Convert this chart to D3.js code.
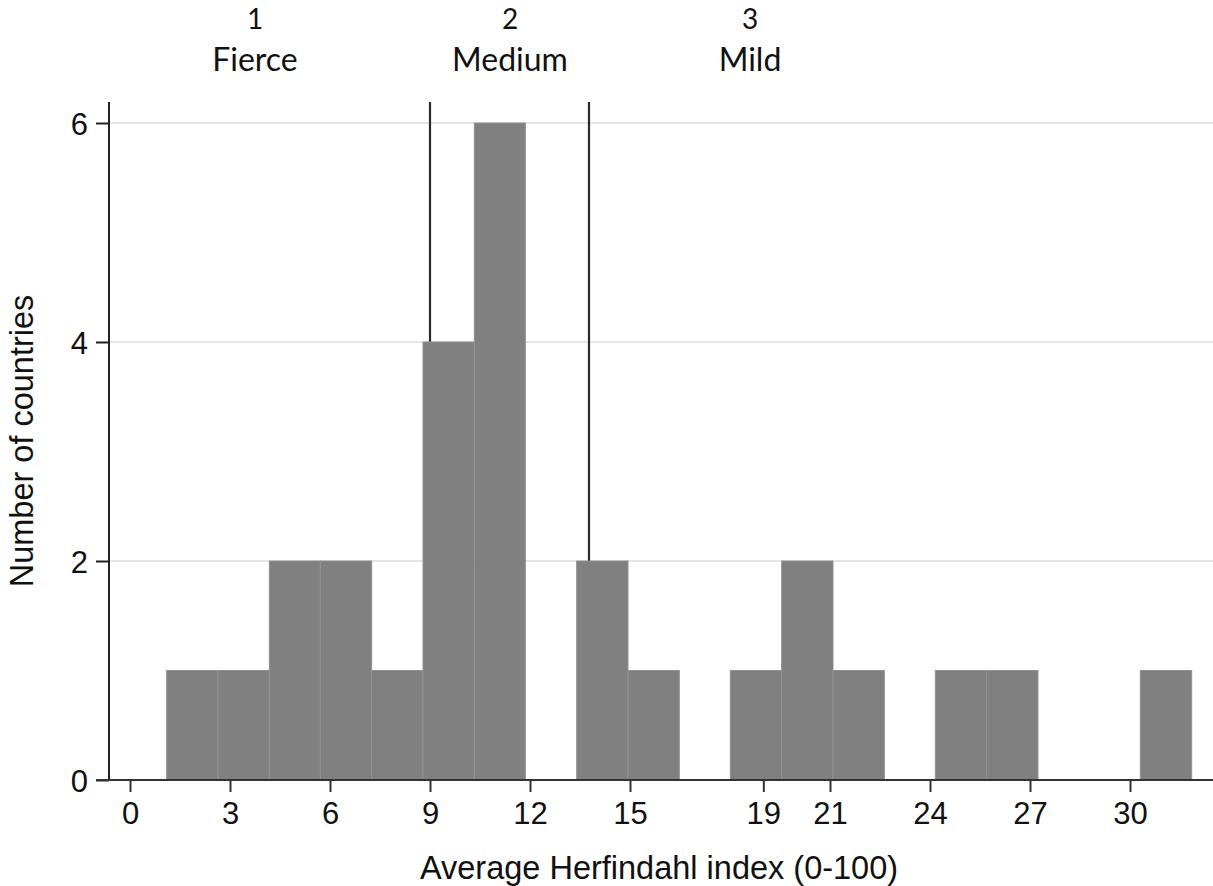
<!DOCTYPE html>
<html>
<head>
<meta charset="utf-8">
<script src="https://cdn.jsdelivr.net/npm/d3@7"></script>
<style>
  html, body { margin: 0; padding: 0; background: #fff; }
  svg { display: block; }
  .sans { font-family: "Liberation Sans", Arial, sans-serif; }
  .lab { font-family: Lato, "Open Sans", sans-serif; }
</style>
</head>
<body>
<svg id="chart" width="1213" height="886"></svg>
<script>
// ---- data ----
const binEdges = [1.10, 2.64, 4.18, 5.71, 7.25, 8.79, 10.33, 11.86, 13.40, 14.94, 16.48,
                  18.01, 19.55, 21.09, 22.63, 24.16, 25.70, 27.24, 28.78, 30.31, 31.85];
const binCounts = [1, 1, 2, 2, 1, 4, 6, 0, 2, 1, 0, 1, 2, 1, 0, 1, 1, 0, 0, 1];
const xTicks = [0, 3, 6, 9, 12, 15, 19, 21, 24, 27, 30];
const yTicks = [0, 2, 4, 6];
const cutoffs = [9.0, 13.77];
const groupNumbers = ["1", "2", "3"];
const groupNames = ["Fierce", "Medium", "Mild"];
const groupCenters = [3.75, 11.4, 18.6];
const xTitle = "Average Herfindahl index (0-100)";
const yTitle = "Number of countries";

// ---- layout ----
const svg = d3.select("#chart");
const x = d3.scaleLinear().domain([0, 30]).range([130, 1130]);
const y = d3.scaleLinear().domain([0, 6]).range([780, 123]);
const axisX = 109, plotTop = 102, plotRight = 1213;

// gridlines
svg.append("g").selectAll("line").data(yTicks.filter(d => d > 0)).join("line")
  .attr("x1", axisX).attr("x2", plotRight)
  .attr("y1", d => y(d)).attr("y2", d => y(d))
  .attr("stroke", "#e6e6e6").attr("stroke-width", 2);

// cutoff lines (behind bars)
svg.append("g").selectAll("line").data(cutoffs).join("line")
  .attr("x1", d => x(d)).attr("x2", d => x(d))
  .attr("y1", plotTop).attr("y2", y(0))
  .attr("stroke", "#2a2a2a").attr("stroke-width", 2.2);

// bars
const bins = binCounts.map((c, i) => ({x0: binEdges[i], x1: binEdges[i + 1], c}));
svg.append("g").selectAll("rect").data(bins.filter(b => b.c > 0)).join("rect")
  .attr("x", d => x(d.x0)).attr("width", d => x(d.x1) - x(d.x0))
  .attr("y", d => y(d.c)).attr("height", d => y(0) - y(d.c))
  .attr("fill", "#808080").attr("stroke", "#919191").attr("stroke-width", 1);

// y axis
const yAxis = d3.axisLeft(y).tickValues(yTicks).tickSize(13).tickPadding(8).tickFormat(d3.format("d"));
const gy = svg.append("g").attr("transform", `translate(${axisX},0)`).call(yAxis);
gy.attr("font-family", null).attr("font-size", null).attr("class", "sans");
gy.select(".domain").remove();
gy.append("line").attr("x1", 0).attr("x2", 0).attr("y1", plotTop).attr("y2", y(0))
  .attr("stroke", "#222").attr("stroke-width", 2);
gy.selectAll(".tick line").attr("stroke", "#222").attr("stroke-width", 2);
gy.selectAll(".tick text").style("font-size", "31px")
  .attr("fill", "#111").attr("dy", "0.36em");

// x axis
const xAxis = d3.axisBottom(x).tickValues(xTicks).tickSize(12).tickPadding(10).tickFormat(d3.format("d"));
const gx = svg.append("g").attr("transform", `translate(0,${y(0)})`).call(xAxis);
gx.attr("font-family", null).attr("font-size", null).attr("class", "sans");
gx.select(".domain").remove();
gx.append("line").attr("x1", 96).attr("x2", plotRight).attr("y1", 0).attr("y2", 0)
  .attr("stroke", "#333").attr("stroke-width", 2);
gx.selectAll(".tick line").attr("stroke", "#333").attr("stroke-width", 2);
gx.selectAll(".tick text").style("font-size", "31px").attr("fill", "#111");

// axis titles
svg.append("text").attr("class", "sans").attr("x", 659).attr("y", 879).attr("text-anchor", "middle")
  .style("font-size", "32.5px").attr("fill", "#111").text(xTitle);
svg.append("text").attr("class", "sans").attr("transform", "translate(33,441) rotate(-90)")
  .attr("text-anchor", "middle").style("font-size", "32.5px").attr("fill", "#111").text(yTitle);

// group labels above
const gl = svg.append("g").attr("class", "lab");
gl.selectAll("text.num").data(groupNumbers).join("text").attr("class", "num")
  .attr("x", (d, i) => x(groupCenters[i])).attr("y", 29).attr("text-anchor", "middle")
  .style("font-size", "28px").attr("fill", "#111").text(d => d);
gl.selectAll("text.name").data(groupNames).join("text").attr("class", "name")
  .attr("x", (d, i) => x(groupCenters[i])).attr("y", 71).attr("text-anchor", "middle")
  .style("font-size", "32px").attr("fill", "#111").text(d => d);
</script>
</body>
</html>
